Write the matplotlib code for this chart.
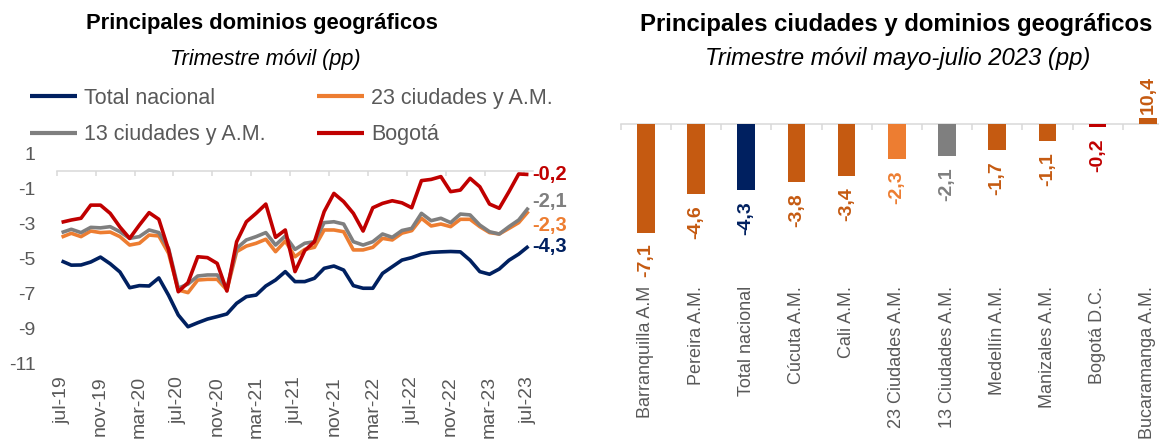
import matplotlib
matplotlib.use('Agg')
import matplotlib.pyplot as plt
import numpy as np

plt.rcParams['font.family'] = ['Liberation Sans', 'DejaVu Sans']
plt.rcParams['axes.unicode_minus'] = False

# ---------------- data: left chart (monthly, jul-19 .. jul-23) ----------------
tick_labels = ["jul-19", "nov-19", "mar-20", "jul-20", "nov-20", "mar-21", "jul-21",
               "nov-21", "mar-22", "jul-22", "nov-22", "mar-23", "jul-23"]

total_nacional = [-5.14, -5.38, -5.37, -5.2, -4.92, -5.3, -5.77, -6.67, -6.55, -6.57,
                  -6.11, -7.1, -8.23, -8.9, -8.67, -8.46, -8.32, -8.17, -7.56, -7.18,
                  -7.09, -6.57, -6.23, -5.75, -6.32, -6.32, -6.13, -5.56, -5.43, -5.66,
                  -6.55, -6.7, -6.7, -5.85, -5.47, -5.09, -4.95, -4.75, -4.65, -4.62,
                  -4.6, -4.62, -5.1, -5.75, -5.9, -5.6, -5.1, -4.75, -4.3]

ciudades_23 = [-3.78, -3.56, -3.75, -3.43, -3.52, -3.49, -3.75, -4.23, -4.13, -3.66,
               -3.71, -4.7, -6.8, -6.95, -6.23, -6.19, -6.19, -6.8, -4.61, -4.29,
               -4.13, -3.9, -4.61, -4.0, -4.9, -4.48, -4.36, -3.37, -3.37, -3.47,
               -4.51, -4.51, -4.36, -3.85, -3.94, -3.55, -3.41, -2.7, -3.14, -3.03,
               -3.18, -2.76, -2.76, -3.18, -3.52, -3.6, -3.28, -2.95, -2.3]

ciudades_13 = [-3.52, -3.33, -3.52, -3.22, -3.25, -3.18, -3.47, -3.85, -3.75, -3.37,
               -3.52, -4.42, -6.7, -6.46, -6.0, -5.94, -5.94, -6.7, -4.42, -3.94,
               -3.75, -3.52, -4.23, -3.71, -4.48, -4.13, -4.04, -2.95, -2.9, -3.03,
               -4.04, -4.23, -4.04, -3.6, -3.79, -3.4, -3.28, -2.42, -2.84, -2.7,
               -2.95, -2.46, -2.51, -3.09, -3.47, -3.6, -3.18, -2.8, -2.1]

bogota = [-2.93, -2.8, -2.7, -1.95, -1.95, -2.42, -3.2, -3.85, -3.09, -2.38,
          -2.76, -4.5, -6.9, -6.38, -4.9, -4.95, -5.28, -6.86, -4.04, -2.9,
          -2.42, -1.89, -3.79, -3.37, -5.75, -4.55, -4.04, -2.32, -1.28, -1.75,
          -2.42, -3.43, -2.1, -1.85, -1.7, -1.82, -2.1, -0.55, -0.48, -0.32,
          -1.18, -1.09, -0.42, -0.9, -1.89, -2.13, -1.18, -0.17, -0.2]

series_names = ["Total nacional", "23 ciudades y A.M.", "13 ciudades y A.M.", "Bogotá"]

# ---------------- data: right chart ----------------
categories = ["Barranquilla A.M", "Pereira A.M.", "Total nacional", "Cúcuta A.M.", "Cali A.M.",
              "23 Ciudades A.M.", "13 Ciudades A.M.", "Medellín A.M.", "Manizales A.M.",
              "Bogotá D.C.", "Bucaramanga A.M."]
bar_values = [-7.1, -4.6, -4.3, -3.8, -3.4, -2.3, -2.1, -1.7, -1.1, -0.2, 10.4]

NAVY = '#002060'
ORANGE = '#ED7D31'
GRAY = '#7F7F7F'
RED = '#C00000'
BROWN = '#C55A11'
TXT = '#595959'
AXC = '#D9D9D9'

bar_colors = [BROWN, BROWN, NAVY, BROWN, BROWN, ORANGE, GRAY, BROWN, BROWN, RED, BROWN]

W, H = 1159, 444
fig = plt.figure(figsize=(W / 100, H / 100), dpi=100)


def fx(px):
    return px / W


def fy(py):
    return 1 - py / H


# ================= LEFT CHART =================
ax = fig.add_axes([fx(56.7), fy(363.5), (533.3 - 56.7) / W, (363.5 - 153.5) / H])
x = np.arange(len(total_nacional))
line_kw = dict(lw=2.6, solid_joinstyle='round', solid_capstyle='butt')
h_tot, = ax.plot(x, total_nacional, color=NAVY, label=series_names[0], **line_kw)
h_23, = ax.plot(x, ciudades_23, color=ORANGE, label=series_names[1], **line_kw)
h_13, = ax.plot(x, ciudades_13, color=GRAY, label=series_names[2], **line_kw)
h_bog, = ax.plot(x, bogota, color=RED, label=series_names[3], **line_kw)

ax.set_xlim(-0.5, len(x) - 0.5)
ax.set_ylim(-11, 1)
for s in ['bottom', 'left', 'right']:
    ax.spines[s].set_visible(False)
ax.spines['top'].set_position(('data', 0))
ax.spines['top'].set_color(AXC)
ax.spines['top'].set_linewidth(1.1)

yt = np.arange(1, -12, -2)
ax.set_yticks(yt)
ax.set_yticklabels([str(v) for v in yt])
ax.tick_params(axis='y', length=0, pad=15, labelsize=14, labelcolor=TXT)

ax.set_xticks(np.arange(0, len(x), 4))
ax.set_xticklabels(tick_labels, rotation=90)
ax.set_xticks(np.arange(-0.5, len(x) - 1, 4), minor=True)
ax.tick_params(axis='x', which='major', length=0, pad=9, labelsize=14, labelcolor=TXT,
               top=False, bottom=True)
ax.tick_params(axis='x', which='minor', top=True, bottom=False, direction='in',
               length=3.8, width=1.1, color=AXC)

# end labels
end_info = [(total_nacional, NAVY, 0), (ciudades_23, ORANGE, -10.5),
            (ciudades_13, GRAY, 4.5), (bogota, RED, 0)]
for ser, col, dy in end_info:
    v = ser[-1]
    ax.annotate(f"{v:.1f}".replace('.', ','), xy=(len(x) - 1, v), xytext=(3, dy),
                textcoords='offset points', ha='left', va='center', color=col,
                fontsize=14.5, fontweight='bold', annotation_clip=False)

leg = ax.legend(handles=[h_tot, h_13, h_23, h_bog], ncol=2, loc='upper left',
                bbox_to_anchor=(fx(30), fy(88)), bbox_transform=fig.transFigure,
                frameon=False, fontsize=15.5, handlelength=2.2, handletextpad=0.3,
                columnspacing=2.4, labelspacing=0.7, borderpad=0, borderaxespad=0)
for t in leg.get_texts():
    t.set_color(TXT)
for lh in leg.get_lines():
    lh.set_linewidth(3.0)

fig.text(fx(262), fy(24), "Principales dominios geográficos", ha='center', va='center',
         fontsize=15.8, fontweight='bold', color='black')
fig.text(fx(265), fy(59), "Trimestre móvil (pp)", ha='center', va='center',
         fontsize=15.6, style='italic', color='black')

# ================= RIGHT CHART =================
bx = fig.add_axes([fx(620.7), fy(281), 552.2 / W, (281 - 117.7) / H])
xc = np.arange(len(categories))
bx.bar(xc, bar_values, width=0.35, color=bar_colors, zorder=2)
bx.set_xlim(-0.5, len(categories) - 0.5)
bx.set_ylim(-10.26, 0.41)
for s in ['bottom', 'left', 'right']:
    bx.spines[s].set_visible(False)
bx.spines['top'].set_position(('data', 0))
bx.spines['top'].set_color(AXC)
bx.spines['top'].set_linewidth(1.1)
bx.spines['top'].set_zorder(1)
bx.set_yticks([])
bx.set_xticks(xc)
bx.set_xticklabels(categories, rotation=90)
bx.set_xticks(np.arange(-0.5, len(categories), 1), minor=True)
bx.tick_params(axis='x', which='major', length=0, pad=3.5, labelsize=13, labelcolor=TXT,
               top=False, bottom=True)
bx.tick_params(axis='x', which='minor', top=True, bottom=False, direction='in',
               length=4.3, width=1.1, color=AXC)

ymax = bx.get_ylim()[1]
for xi, v, col in zip(xc, bar_values, bar_colors):
    lab = f"{v:.1f}".replace('.', ',')
    if v < 0:
        bx.annotate(lab, xy=(xi, v), xytext=(0, -8), textcoords='offset points',
                    ha='center', va='top', rotation=90, color=col, fontsize=14,
                    fontweight='bold', annotation_clip=False)
    else:
        bx.annotate(lab, xy=(xi, ymax), xytext=(0, 3), textcoords='offset points',
                    ha='center', va='bottom', rotation=90, color=col, fontsize=14,
                    fontweight='bold', annotation_clip=False)

fig.text(fx(896), fy(24), "Principales ciudades y dominios geográficos", ha='center',
         va='center', fontsize=17.2, fontweight='bold', color='black')
fig.text(fx(898), fy(59), "Trimestre móvil mayo-julio 2023 (pp)", ha='center', va='center',
         fontsize=17.2, style='italic', color='black')

fig.savefig('out.png', dpi=100)
